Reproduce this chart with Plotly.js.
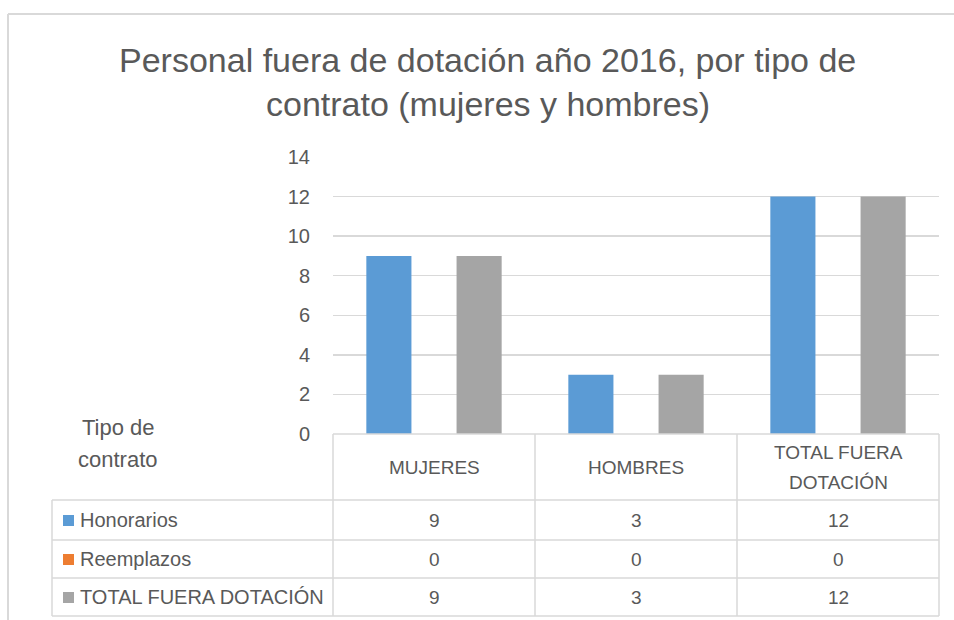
<!DOCTYPE html>
<html>
<head>
<meta charset="utf-8">
<script src="https://cdn.plot.ly/plotly-3.0.1.min.js"></script>
<style>html,body{margin:0;padding:0;background:#fff;}#chart{width:954px;height:620px;}</style>
</head>
<body>
<div id="chart"></div>
<script>
// ---- data ----
const categories = ["MUJERES", "HOMBRES", "TOTAL FUERA DOTACIÓN"];
const headerLines = [["MUJERES"], ["HOMBRES"], ["TOTAL FUERA", "DOTACIÓN"]];
const seriesNames = ["Honorarios", "Reemplazos", "TOTAL FUERA DOTACIÓN"];
const honorarios = [9, 3, 12];
const reemplazos = [0, 0, 0];
const totalFuera = [9, 3, 12];
const yTicks = [0, 2, 4, 6, 8, 10, 12, 14];
const titleLines = ["Personal fuera de dotación año 2016, por tipo de", "contrato (mujeres y hombres)"];

const colors = ["#5b9bd5", "#ed7d31", "#a5a5a5"];
const seriesValues = [honorarios, reemplazos, totalFuera];

const FONT = "Liberation Sans, Arial, sans-serif";
const TXT = "#595959";
const LINE = "#d9d9d9";

// layout geometry (pixels)
const W = 954, H = 620;
const L = 333, R = 939, T = 157, B = 434;
const px = p => (p - L) / (R - L);
const py = p => (B - p) / (B - T);

const traces = seriesValues.map((vals, i) => ({
  type: "bar",
  name: seriesNames[i],
  x: categories,
  y: vals,
  marker: {color: colors[i]},
  hoverinfo: "x+y+name"
}));

const shapes = [];
const ann = [];
function hline(x0, x1, y) {
  shapes.push({type: "line", xref: "paper", yref: "paper", x0: px(x0), x1: px(x1), y0: py(y), y1: py(y), line: {color: LINE, width: 1.5}});
}
function vline(x, y0, y1) {
  shapes.push({type: "line", xref: "paper", yref: "paper", x0: px(x), x1: px(x), y0: py(y0), y1: py(y1), line: {color: LINE, width: 1.5}});
}
function text(x, y, s, size, anchor) {
  ann.push({xref: "paper", yref: "paper", x: px(x), y: py(y), text: s, showarrow: false,
    xanchor: anchor || "center", yanchor: "middle", font: {family: FONT, size: size, color: TXT}});
}
// outer frame of chart area
shapes.push({type: "line", xref: "paper", yref: "paper", x0: px(8), x1: px(954), y0: py(14), y1: py(14), line: {color: "#d9d9d9", width: 2}});
shapes.push({type: "line", xref: "paper", yref: "paper", x0: px(8), x1: px(8), y0: py(14), y1: py(620), line: {color: "#d9d9d9", width: 2}});

// title
text(487, 60, titleLines[0], 34);
text(488, 104, titleLines[1], 34);

// table grid
const colX = [333, 535, 737, 939];
const rowY = [500, 540, 578, 616];
hline(333, 939, 434);
rowY.forEach(y => hline(52, 939, y));
colX.forEach(x => vline(x, 434, 616));
vline(52, 500, 616);

// header labels
headerLines.forEach((lines, i) => {
  const xc = (colX[i] + colX[i + 1]) / 2;
  if (lines.length === 1) text(xc, 467, lines[0], 19);
  else { text(xc, 452, lines[0], 19); text(xc, 482, lines[1], 19); }
});
// row labels + values
seriesNames.forEach((s, r) => {
  const yc = (rowY[r] + [540, 578, 616][r]) / 2;
  shapes.push({type: "rect", xref: "paper", yref: "paper", x0: px(63), x1: px(74), y0: py(yc - 5), y1: py(yc + 6), fillcolor: colors[r], line: {width: 0}});
  text(78, yc, s, 20, "left");
  seriesValues[r].forEach((v, i) => text((colX[i] + colX[i + 1]) / 2, yc, String(v), 19));
});
// "Tipo de contrato"
text(118, 427, "Tipo de", 22);
text(118, 459, "contrato", 22);

const layout = {
  width: W, height: H,
  margin: {l: L, r: W - R, t: T, b: H - B, pad: 0},
  paper_bgcolor: "#fff", plot_bgcolor: "#fff",
  showlegend: false,
  barmode: "group",
  bargap: 0.33, bargroupgap: 0,
  xaxis: {type: "category", showticklabels: false, showgrid: false, zeroline: false, showline: false, ticks: ""},
  yaxis: {range: [0, 14], tickvals: yTicks, ticktext: yTicks.map(String), showgrid: true, gridcolor: LINE, gridwidth: 1.5,
    zeroline: false, showline: false, ticks: "", ticklabelstandoff: 22,
    tickfont: {family: FONT, size: 20, color: TXT}},
  shapes: shapes,
  annotations: ann
};
Plotly.newPlot("chart", traces, layout, {displayModeBar: false, staticPlot: true});
</script>
</body>
</html>
